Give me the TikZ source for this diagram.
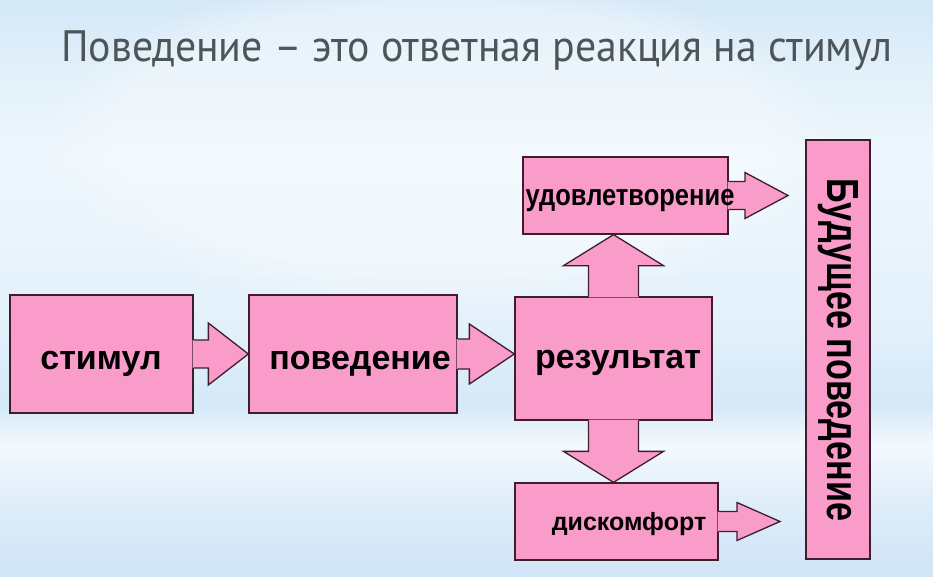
\documentclass[tikz,border=0pt]{standalone}
\usepackage{fontspec}
\setmainfont{Liberation Sans}
\newfontfamily\titlefont{PT Sans}
\usetikzlibrary{calc,fadings}
\definecolor{pinkc}{HTML}{FA9CCA}
\definecolor{edgec}{HTML}{3C1E2D}
\definecolor{titlec}{HTML}{4E5558}
\definecolor{bgA}{HTML}{D4E8F8}
\definecolor{bgB}{HTML}{E0EFF9}
\definecolor{bgC}{HTML}{EEF7FD}
\definecolor{bgD}{HTML}{E4F1FB}
\definecolor{bgE}{HTML}{D5E9F8}
\definecolor{bgF}{HTML}{F4F9FE}
\definecolor{bgG}{HTML}{E0EEFA}
\definecolor{bgH}{HTML}{CFE4F6}
\pgfdeclareverticalshading{bgshade}{100bp}{%
  color(0bp)=(bgH); color(25bp)=(bgH); color(31.9bp)=(bgG); color(36.3bp)=(bgF);
  color(39.8bp)=(bgE); color(47.6bp)=(bgD); color(61.5bp)=(bgC); color(69.8bp)=(bgB);
  color(75bp)=(bgA); color(100bp)=(bgA)}
\tikzset{
  box/.style={draw=edgec, line width=1.3pt, fill=pinkc, inner sep=0pt},
  arrline/.style={draw=edgec, line width=1.3pt, line join=miter},
  lbl/.style={font=\bfseries\fontsize{34}{38}\selectfont, text=black, inner sep=0pt, anchor=base},
}
% horizontal (rightward) block arrow: start, tip, shaft half, head half, head length
\newcommand\harrow[5]{%
  \fill[pinkc] let \p1=(#1), \p2=(#2) in
    ({\x1-1pt},{\y2+#3pt}) -- ({\x2-#5pt},{\y2+#3pt}) -- ({\x2-#5pt},{\y2+#4pt}) -- (\x2,\y2)
    -- ({\x2-#5pt},{\y2-#4pt}) -- ({\x2-#5pt},{\y2-#3pt}) -- ({\x1-1pt},{\y2-#3pt}) -- cycle;
  \draw[arrline] let \p1=(#1), \p2=(#2) in
    (\x1,{\y2+#3pt}) -- ({\x2-#5pt},{\y2+#3pt}) -- ({\x2-#5pt},{\y2+#4pt}) -- (\x2,\y2)
    -- ({\x2-#5pt},{\y2-#4pt}) -- ({\x2-#5pt},{\y2-#3pt}) -- (\x1,{\y2-#3pt});
}
% vertical block arrow: start, tip, shaft half, head half, head length, sign (1 up, -1 down)
\newcommand\varrow[6]{%
  \fill[pinkc] let \p1=(#1), \p2=(#2) in
    ({\x2+#3pt},{\y1-(#6)*1pt}) -- ({\x2+#3pt},{\y2-(#6)*#5pt}) -- ({\x2+#4pt},{\y2-(#6)*#5pt}) -- (\x2,\y2)
    -- ({\x2-#4pt},{\y2-(#6)*#5pt}) -- ({\x2-#3pt},{\y2-(#6)*#5pt}) -- ({\x2-#3pt},{\y1-(#6)*1pt}) -- cycle;
  \draw[arrline] let \p1=(#1), \p2=(#2) in
    ({\x2+#3pt},\y1) -- ({\x2+#3pt},{\y2-(#6)*#5pt}) -- ({\x2+#4pt},{\y2-(#6)*#5pt}) -- (\x2,\y2)
    -- ({\x2-#4pt},{\y2-(#6)*#5pt}) -- ({\x2-#3pt},{\y2-(#6)*#5pt}) -- ({\x2-#3pt},\y1);
}
\begin{document}
\begin{tikzpicture}[x=1pt,y=-1pt]
\useasboundingbox (0,0) rectangle (933,576);
\shade[shading=bgshade] (0,0) rectangle (933,576);
\fill[white, path fading=circle with fuzzy edge 20 percent, fill opacity=0.35] (440,140) ellipse (400 and 170);

% title
\node[font=\titlefont\fontsize{44}{48}\selectfont, text=titlec, anchor=base, inner sep=0pt] (title) at (477,61) {\scalebox{0.95}[1]{Поведение – это ответная реакция на стимул}};

% boxes
\node[box, minimum width=183pt, minimum height=118pt] (stim) at (101.5,354) {};
\node[box, minimum width=208pt, minimum height=118pt] (beh) at (353,354) {};
\node[box, minimum width=197pt, minimum height=123pt] (res) at (613.5,358.5) {};
\node[box, minimum width=205pt, minimum height=77pt] (sat) at (625.5,195.5) {};
\node[box, minimum width=203pt, minimum height=77pt] (dis) at (616.5,521.5) {};
\node[box, minimum width=64pt, minimum height=419pt] (fut) at (838,349.5) {};

\coordinate (t1) at (788,195.5);
\coordinate (t2) at (780,521.5);

% arrows
\harrow{stim.east}{beh.west}{14}{31}{40}
\harrow{beh.east}{res.west |- beh.east}{15}{30}{45}
\harrow{sat.east}{t1}{14}{23}{43}
\harrow{dis.east}{t2}{10}{19}{43}
\varrow{res.north}{res.north |- sat.south}{25}{50}{31}{1}
\varrow{res.south}{res.south |- dis.north}{25}{50}{31}{-1}

% labels
\node[lbl] (lstim) at (101,369) {стимул};
\node[lbl] (lbeh) at (360,369) {поведение};
\node[lbl] (lres) at (618,368) {результат};
\node[lbl, font=\bfseries\fontsize{30}{34}\selectfont] (lsat) at (630,205) {\scalebox{0.85}[1]{удовлетворение}};
\node[lbl, font=\bfseries\fontsize{25}{30}\selectfont] (ldis) at (629,530) {дискомфорт};
\node[font=\bfseries\fontsize{45}{48}\selectfont, inner sep=0pt, rotate=-90] (lfut) at (838,350) {\scalebox{0.76}[1]{Будущее поведение}};
\end{tikzpicture}
\end{document}
